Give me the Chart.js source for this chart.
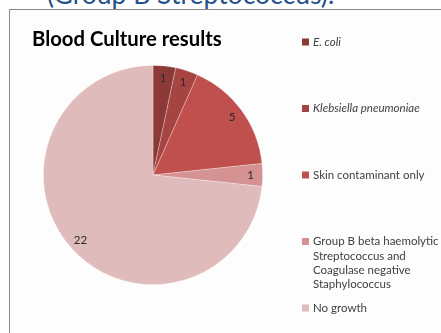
<!DOCTYPE html>
<html>
<head>
<meta charset="utf-8">
<script src="https://cdn.jsdelivr.net/npm/chart.js@4/dist/chart.umd.min.js"></script>
<style>
  html, body { margin: 0; padding: 0; background: #fff; width: 441px; height: 333px; overflow: hidden; }
  #top { position: absolute; left: 47px; top: -19px; font: 26.5px Lato, "Open Sans", sans-serif; color: #24528A; white-space: nowrap; line-height: 26px; }
  #box { position: absolute; left: 9px; top: 9px; width: 600px; height: 500px; border: 1px solid #8a8a8a; background: #fdfdfd; }
  #c { position: absolute; left: 0; top: 0; }
</style>
</head>
<body>
<div id="top">(Group B Streptococcus).</div>
<div id="box"></div>
<canvas id="c" width="441" height="333"></canvas>
<script>
const chartTitle = "Blood Culture results";
const categories = [
  "E. coli",
  "Klebsiella pneumoniae",
  "Skin contaminant only",
  "Group B beta haemolytic Streptococcus and Coagulase negative Staphylococcus",
  "No growth"
];
const counts = [1, 1, 5, 1, 22];
const sliceColors = ["#8B3A37", "#A64441", "#C0504D", "#D49392", "#DFBBBB"];
const italicCategories = [true, true, false, false, false];

const labelPlugin = {
  id: 'sliceLabels',
  afterDatasetsDraw(chart) {
    const ctx = chart.ctx;
    const meta = chart.getDatasetMeta(0);
    ctx.save();
    ctx.font = '11.5px Lato, "Open Sans", sans-serif';
    ctx.fillStyle = '#2a2a2a';
    ctx.textAlign = 'center';
    ctx.textBaseline = 'middle';
    meta.data.forEach((arc, i) => {
      const p = arc.getProps(['x', 'y', 'startAngle', 'endAngle', 'outerRadius'], true);
      const mid = (p.startAngle + p.endAngle) / 2;
      const r = p.outerRadius - 12;
      ctx.fillText(String(chart.data.datasets[0].data[i]), p.x + Math.cos(mid) * r, p.y + Math.sin(mid) * r);
    });
    ctx.restore();
  }
};

const sideLegendPlugin = {
  id: 'sideLegend',
  afterDraw(chart) {
    const ctx = chart.ctx;
    ctx.save();
    // title
    ctx.font = 'bold 20.3px Lato, "Open Sans", sans-serif';
    ctx.fillStyle = '#000';
    ctx.textAlign = 'left';
    ctx.textBaseline = 'alphabetic';
    ctx.fillText(chartTitle, 32, 46);
    // legend
    const x0 = 302, tx = 313, maxW = 126, lineH = 14.4;
    chart.data.labels.forEach((lab, i) => {
      const y = 42 + i * 66.5;
      ctx.fillStyle = chart.data.datasets[0].backgroundColor[i];
      ctx.fillRect(x0, y - 3.5, 7, 7);
      ctx.font = (italicCategories[i] ? 'italic ' : '') + '11.5px Lato, "Open Sans", sans-serif';
      ctx.fillStyle = '#404040';
      ctx.textBaseline = 'middle';
      const words = lab.split(' ');
      const lines = [];
      let cur = '';
      words.forEach(w => {
        const t = cur ? cur + ' ' + w : w;
        if (ctx.measureText(t).width > maxW && cur) { lines.push(cur); cur = w; } else { cur = t; }
      });
      lines.push(cur);
      lines.forEach((ln, k) => ctx.fillText(ln, tx, y + k * lineH));
    });
    ctx.restore();
  }
};

new Chart(document.getElementById('c'), {
  type: 'pie',
  data: {
    labels: categories,
    datasets: [{
      data: counts,
      backgroundColor: sliceColors,
      borderColor: 'rgba(255,255,255,0.35)',
      borderWidth: 0.8
    }]
  },
  options: {
    responsive: false,
    animation: false,
    layout: { padding: { left: 43, right: 178, top: 65, bottom: 48 } },
    plugins: {
      legend: { display: false },
      tooltip: { enabled: false },
      title: { display: false }
    }
  },
  plugins: [labelPlugin, sideLegendPlugin]
});
</script>
</body>
</html>
